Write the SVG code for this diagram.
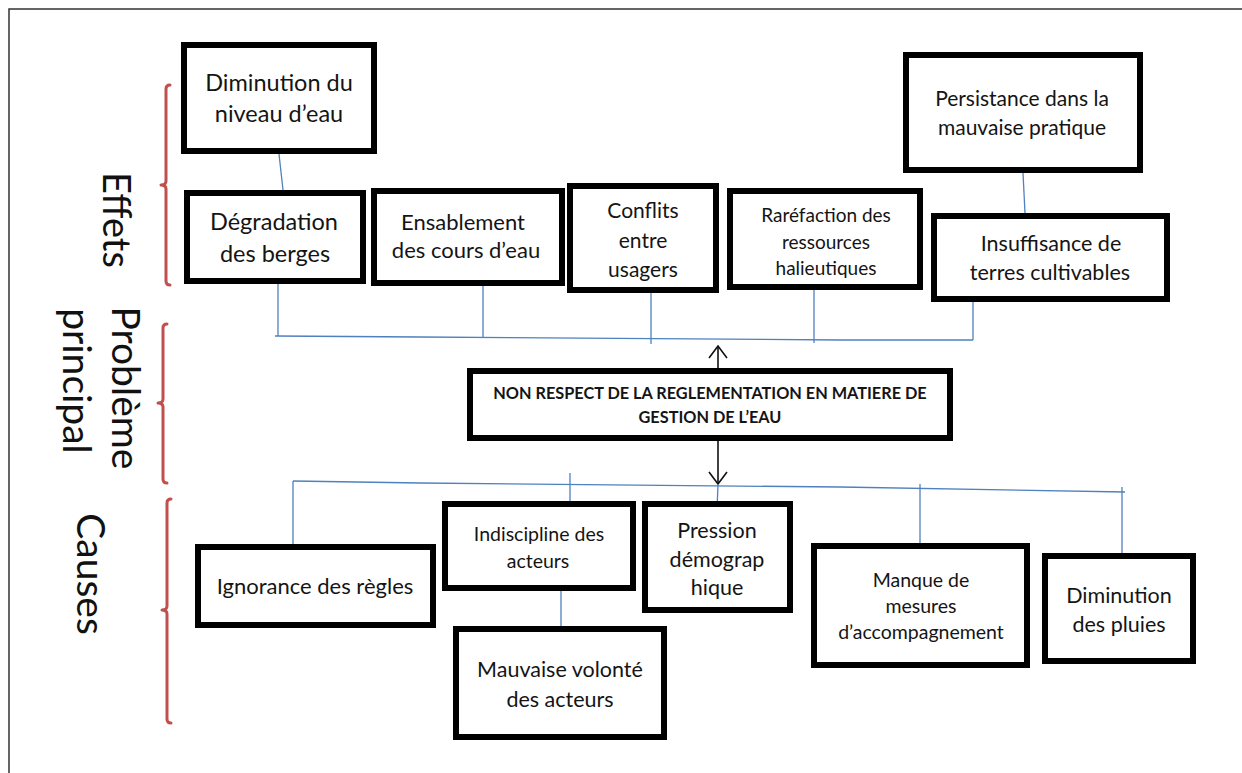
<svg xmlns="http://www.w3.org/2000/svg" width="1242" height="773" viewBox="0 0 1242 773">
  <style>
    .frame { fill: none; stroke: #333; stroke-width: 1.5; }
    .box { fill: #fff; stroke: #000; stroke-width: 6; }
    .t { font-family: Lato, "Liberation Sans", sans-serif; fill: #141414; text-anchor: middle; }
    .tb { font-family: Lato, "Liberation Sans", sans-serif; fill: #141414; text-anchor: middle; font-weight: bold; }
    .side { font-family: Lato, "Liberation Sans", sans-serif; fill: #111; text-anchor: middle; }
    .link { fill: none; stroke: #4F81BD; stroke-width: 1.3; }
    .brace { fill: none; stroke: #C0504D; stroke-width: 3; stroke-linecap: round; stroke-linejoin: round; }
    .arrow { fill: none; stroke: #111; stroke-width: 1.6; }
  </style>
  <defs>
    <marker id="chev" viewBox="0 0 14 20" refX="13" refY="10" markerWidth="14" markerHeight="20" markerUnits="userSpaceOnUse" orient="auto">
      <path d="M1,1 L13,10 L1,19" fill="none" stroke="#111" stroke-width="1.6"/>
    </marker>
  </defs>

  <!-- page frame -->
  <rect class="frame" x="9" y="9" width="1300" height="800"/>

  <!-- section labels -->
  <g id="labels">
    <text class="side" font-size="38" transform="translate(103,220) rotate(90)">Effets</text>
    <text class="side" font-size="39" transform="translate(112,388) rotate(90)">Problème</text>
    <text class="side" font-size="39" transform="translate(63,381) rotate(90)">principal</text>
    <text class="side" font-size="39" transform="translate(77,574) rotate(90)">Causes</text>
  </g>

  <!-- section braces -->
  <g id="braces">
    <path class="brace" d="M170,85 Q166,85 166,89 L166,181 Q166,185 161,185 Q166,185 166,189 L166,281 Q166,285 170,285"/>
    <path class="brace" d="M167,324 Q163,324 163,328 L163,399 Q163,403 158,403 Q163,403 163,407 L163,479 Q163,483 167,483"/>
    <path class="brace" d="M171,499 Q167,499 167,503 L167,606 Q167,610 162,610 Q167,610 167,614 L167,719 Q167,723 171,723"/>
  </g>

  <!-- connectors -->
  <g id="connectors">
    <line class="link" x1="279" y1="154" x2="283" y2="190"/>
    <line class="link" x1="1023" y1="173" x2="1025" y2="213"/>
    <!-- effects bus -->
    <polyline class="link" points="275,336 420,337 840,340 973,340"/>
    <line class="link" x1="278" y1="284" x2="278" y2="336"/>
    <line class="link" x1="483" y1="286" x2="483" y2="337"/>
    <line class="link" x1="651" y1="293" x2="651" y2="344"/>
    <line class="link" x1="814" y1="290" x2="814" y2="343"/>
    <line class="link" x1="973" y1="302" x2="973" y2="340"/>
    <!-- problem arrows -->
    <line class="arrow" x1="718" y1="368" x2="718" y2="346" marker-end="url(#chev)"/>
    <line class="arrow" x1="718" y1="441" x2="718" y2="484" marker-end="url(#chev)"/>
    <!-- causes bus -->
    <polyline class="link" points="293,481 420,483 840,487 1125,492"/>
    <line class="link" x1="293" y1="481" x2="293" y2="545"/>
    <line class="link" x1="570" y1="473" x2="570" y2="501"/>
    <line class="link" x1="718" y1="484" x2="717" y2="510"/>
    <line class="link" x1="920" y1="484" x2="920" y2="543"/>
    <line class="link" x1="1122" y1="487" x2="1122" y2="553"/>
    <line class="link" x1="561" y1="591" x2="561" y2="626"/>
  </g>

  <!-- effects -->
  <g id="n-niveau">
    <rect class="box" x="184" y="45" width="190" height="106"/>
    <text class="t" font-size="23.5" x="279" y="91">Diminution du</text>
    <text class="t" font-size="23.5" x="279" y="122">niveau d’eau</text>
  </g>
  <g id="n-berges">
    <rect class="box" x="187" y="193" width="176" height="88"/>
    <text class="t" font-size="23.5" x="274" y="230">Dégradation</text>
    <text class="t" font-size="23.5" x="275" y="262">des berges</text>
  </g>
  <g id="n-ensablement">
    <rect class="box" x="374" y="191" width="188" height="92"/>
    <text class="t" font-size="22" x="463" y="230">Ensablement</text>
    <text class="t" font-size="22" x="466" y="258">des cours d’eau</text>
  </g>
  <g id="n-conflits">
    <rect class="box" x="570" y="186" width="146" height="104"/>
    <text class="t" font-size="21" x="643" y="218">Conflits</text>
    <text class="t" font-size="21" x="643" y="248">entre</text>
    <text class="t" font-size="21" x="643" y="277">usagers</text>
  </g>
  <g id="n-rarefaction">
    <rect class="box" x="730" y="191" width="190" height="96"/>
    <text class="t" font-size="19" x="826" y="222">Raréfaction des</text>
    <text class="t" font-size="19" x="826" y="249">ressources</text>
    <text class="t" font-size="19" x="826" y="275">halieutiques</text>
  </g>
  <g id="n-persistance">
    <rect class="box" x="906" y="55" width="234" height="115"/>
    <text class="t" font-size="21" x="1022" y="106">Persistance dans la</text>
    <text class="t" font-size="21" x="1022" y="135">mauvaise pratique</text>
  </g>
  <g id="n-terres">
    <rect class="box" x="934" y="216" width="233" height="83"/>
    <text class="t" font-size="21.5" x="1051" y="251">Insuffisance de</text>
    <text class="t" font-size="21.5" x="1050" y="280">terres cultivables</text>
  </g>

  <!-- main problem -->
  <g id="n-probleme">
    <rect class="box" x="470" y="371" width="480" height="67"/>
    <text class="tb" font-size="16.3" x="710" y="399">NON RESPECT DE LA REGLEMENTATION EN MATIERE DE</text>
    <text class="tb" font-size="16.3" x="710" y="423">GESTION DE L’EAU</text>
  </g>

  <!-- causes -->
  <g id="n-ignorance">
    <rect class="box" x="198" y="547" width="235" height="78"/>
    <text class="t" font-size="22" x="315" y="594">Ignorance des règles</text>
  </g>
  <g id="n-indiscipline">
    <rect class="box" x="445" y="504" width="188" height="84"/>
    <text class="t" font-size="19.5" x="539" y="541">Indiscipline des</text>
    <text class="t" font-size="19.5" x="538" y="568">acteurs</text>
  </g>
  <g id="n-volonte">
    <rect class="box" x="456" y="629" width="208" height="108"/>
    <text class="t" font-size="21.5" x="560" y="677">Mauvaise volonté</text>
    <text class="t" font-size="21.5" x="560" y="707">des acteurs</text>
  </g>
  <g id="n-pression">
    <rect class="box" x="645" y="504" width="145" height="106"/>
    <text class="t" font-size="21.5" x="717" y="538">Pression</text>
    <text class="t" font-size="21.5" x="717" y="567">démograp</text>
    <text class="t" font-size="21.5" x="717" y="595">hique</text>
  </g>
  <g id="n-mesures">
    <rect class="box" x="814" y="546" width="213" height="119"/>
    <text class="t" font-size="19.5" x="921" y="587">Manque de</text>
    <text class="t" font-size="19.5" x="921" y="613">mesures</text>
    <text class="t" font-size="19.5" x="921" y="639">d’accompagnement</text>
  </g>
  <g id="n-pluies">
    <rect class="box" x="1045" y="556" width="148" height="105"/>
    <text class="t" font-size="21.5" x="1119" y="603">Diminution</text>
    <text class="t" font-size="21.5" x="1119" y="632">des pluies</text>
  </g>
</svg>
